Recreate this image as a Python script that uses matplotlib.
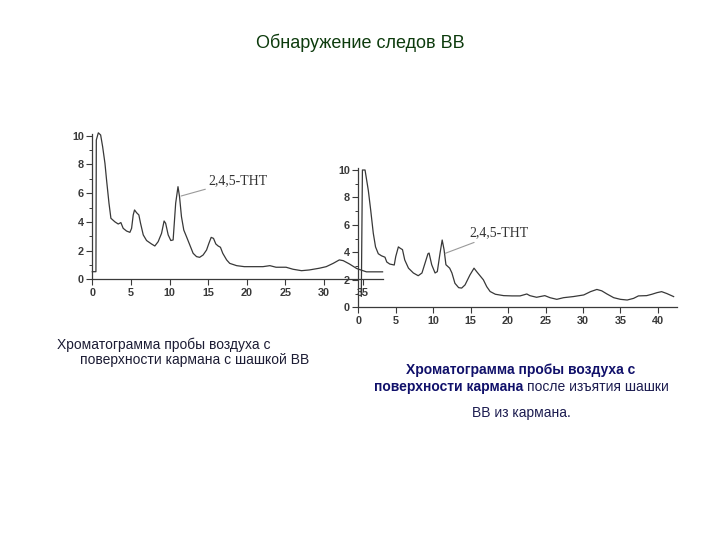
import matplotlib
matplotlib.use("Agg")
import matplotlib.pyplot as plt
from matplotlib.ticker import MultipleLocator

# ---------------- data ----------------
# Chromatogram 1: air sample from pocket surface with explosive charge
t1 = [0.0, 0.47, 0.52, 0.78, 1.08, 1.34, 1.64, 1.85, 2.16, 2.41, 2.93, 3.36, 3.7, 4.0,
      4.44, 4.87, 5.09, 5.3, 5.47, 5.73, 6.03, 6.25, 6.6, 7.03, 7.67, 8.1, 8.53, 8.97,
      9.3, 9.5, 9.83, 10.17, 10.47, 10.8, 11.1, 11.3, 11.55, 11.85, 12.2, 12.63, 13.06,
      13.5, 13.9, 14.35, 14.8, 15.1, 15.4, 15.7, 16.0, 16.3, 16.6, 16.9, 17.4, 17.8,
      18.7, 19.7, 20.8, 22.1, 23.0, 23.8, 25.1, 26.0, 27.1, 28.1, 29.4, 30.3, 31.2,
      32.0, 32.5, 33.3, 34.25, 35.5, 37.6]
s1 = [0.53, 0.53, 9.7, 10.2, 10.05, 9.23, 8.07, 6.9, 5.3, 4.25, 4.0, 3.85, 3.95, 3.55,
      3.36, 3.27, 3.55, 4.48, 4.83, 4.64, 4.48, 3.9, 3.09, 2.7, 2.46, 2.32, 2.62, 3.2,
      4.06, 3.9, 3.09, 2.7, 2.74, 5.3, 6.45, 5.75, 4.36, 3.43, 2.97, 2.39, 1.81,
      1.58, 1.53, 1.69, 2.04, 2.5, 2.92, 2.85, 2.46, 2.32, 2.23, 1.81, 1.35, 1.11,
      0.95, 0.88, 0.88, 0.88, 0.95, 0.84, 0.84, 0.7, 0.6, 0.65, 0.77, 0.88, 1.11,
      1.35, 1.3, 1.07, 0.75, 0.52, 0.52]

# Chromatogram 2: after removing the charge from the pocket
t2 = [0.4, 0.55, 0.9, 1.34, 1.65, 2.0, 2.3, 2.67, 3.1, 3.56, 3.8, 4.2, 4.8, 5.0, 5.35,
      5.6, 5.9, 6.2, 6.7, 7.35, 8.0, 8.5, 8.9, 9.3, 9.45, 9.8, 10.25, 10.55, 10.9, 11.2,
      11.45, 11.7, 12.2, 12.5, 12.9, 13.4, 13.8, 14.25, 14.9, 15.45, 15.8, 16.25, 16.7,
      17.15, 17.6, 18.3, 19.4, 20.5, 21.6, 22.5, 22.9, 23.8, 24.9, 25.6, 26.5, 27.4,
      28.7, 30.1, 31.0, 31.85, 32.5, 33.2, 34.1, 35.0, 35.9, 36.75, 37.4, 38.5, 39.2,
      39.9, 40.5, 41.2, 42.1]
s2 = [0.8, 10.0, 10.0, 8.5, 7.1, 5.4, 4.4, 3.9, 3.75, 3.65, 3.3, 3.15, 3.08, 3.7, 4.4,
      4.3, 4.2, 3.45, 2.85, 2.5, 2.3, 2.5, 3.2, 3.9, 3.95, 3.1, 2.5, 2.6, 3.9, 4.9,
      4.2, 3.1, 2.85, 2.5, 1.75, 1.43, 1.4, 1.63, 2.35, 2.85, 2.6, 2.3, 2.0,
      1.5, 1.15, 0.95, 0.85, 0.83, 0.83, 0.97, 0.85, 0.73, 0.85, 0.7, 0.58, 0.7,
      0.78, 0.9, 1.14, 1.3, 1.2, 0.97, 0.7, 0.58, 0.53, 0.65, 0.83, 0.85, 0.95,
      1.07, 1.14, 1.0, 0.78]

y_ticks = [0, 2, 4, 6, 8, 10]
x_ticks1 = [0, 5, 10, 15, 20, 25, 30, 35]
x_ticks2 = [0, 5, 10, 15, 20, 25, 30, 35, 40]

peak_label = "2,4,5-THT"
peak1 = (11.5, 5.8)
peak2 = (11.6, 3.93)

title = "Обнаружение следов ВВ"
cap1 = ["Хроматограмма пробы воздуха с", "поверхности кармана с шашкой ВВ"]
cap2_l1 = "Хроматограмма пробы воздуха с"
cap2_l2_bold = "поверхности кармана"
cap2_l2_norm = "после изъятия шашки"
cap2_l3 = "ВВ из кармана."

# ---------------- figure ----------------
W, H = 720, 540
fig = plt.figure(figsize=(7.2, 5.4), dpi=100)
fig.patch.set_facecolor("white")

def px_axes(x0, y_bottom, w, h):
    return fig.add_axes([x0 / W, 1 - y_bottom / H, w / W, h / H])

line_col = "#383838"
tick_col = "#3a3a3a"
tick_font = dict(family="Liberation Sans", weight="bold", size=7.8)

def style_axes(ax, xticks, xmax, ymax):
    ax.set_facecolor("none")
    for s in ("top", "right"):
        ax.spines[s].set_visible(False)
    for s in ("left", "bottom"):
        ax.spines[s].set_color(tick_col)
        ax.spines[s].set_linewidth(0.9)
    ax.set_xlim(0, xmax)
    ax.set_ylim(0, ymax)
    ax.set_yticks(y_ticks)
    ax.yaxis.set_minor_locator(MultipleLocator(1))
    ax.set_xticks(xticks)
    ax.tick_params(axis="both", which="major", direction="out", length=4,
                   width=0.8, color=tick_col, labelcolor=tick_col, pad=2)
    ax.tick_params(axis="y", which="minor", direction="out", length=2.5,
                   width=0.7, color=tick_col)
    for lab in ax.get_xticklabels() + ax.get_yticklabels():
        lab.set_fontfamily(tick_font["family"])
        lab.set_fontweight(tick_font["weight"])
        lab.set_fontsize(tick_font["size"])

# chart 1
ax1 = px_axes(92.3, 279.3, 37.6 * 7.72, 10.15 * 14.36)
ax1.plot(t1, s1, color=line_col, lw=0.9, clip_on=False)
style_axes(ax1, x_ticks1, 37.6, 10.15)
ax1.annotate(peak_label, xy=peak1, xytext=(15.0, 6.9),
             textcoords="data", fontsize=10, family="Liberation Serif",
             color="#333333", va="center", ha="left",
             arrowprops=dict(arrowstyle="-", color="#9a9a9a", lw=0.8,
                             shrinkA=0, shrinkB=0))

# chart 2
ax2 = px_axes(358.3, 307.3, 42.5 * 7.49, 10.12 * 13.73)
ax2.plot(t2, s2, color=line_col, lw=0.9, clip_on=False)
style_axes(ax2, x_ticks2, 42.5, 10.12)
ax2.annotate(peak_label, xy=peak2, xytext=(14.8, 5.4),
             textcoords="data", fontsize=10, family="Liberation Serif",
             color="#333333", va="center", ha="left",
             arrowprops=dict(arrowstyle="-", color="#9a9a9a", lw=0.8,
                             shrinkA=0, shrinkB=0))

# texts
def ftxt(x, y, s, **kw):
    fig.text(x / W, 1 - y / H, s, **kw)

ftxt(360, 43, title, ha="center", va="center", fontsize=13,
     family="Liberation Sans", color="#0d3b0d")

cap_col = "#1c1c34"
ftxt(57, 345, cap1[0], ha="left", va="center", fontsize=10,
     family="Liberation Sans", color=cap_col)
ftxt(80, 360, cap1[1], ha="left", va="center", fontsize=10,
     family="Liberation Sans", color=cap_col)

navy = "#10106a"
ftxt(521, 370, cap2_l1, ha="center", va="center", fontsize=10,
     family="Liberation Sans", weight="bold", color=navy)
ftxt(523, 387, cap2_l2_bold, ha="right", va="center", fontsize=10,
     family="Liberation Sans", weight="bold", color=navy)
ftxt(527, 387, cap2_l2_norm, ha="left", va="center", fontsize=10,
     family="Liberation Sans", color="#1c1c50")
ftxt(521, 413, cap2_l3, ha="center", va="center", fontsize=10,
     family="Liberation Sans", color="#1c1c50")

fig.savefig("out.png", dpi=100)
